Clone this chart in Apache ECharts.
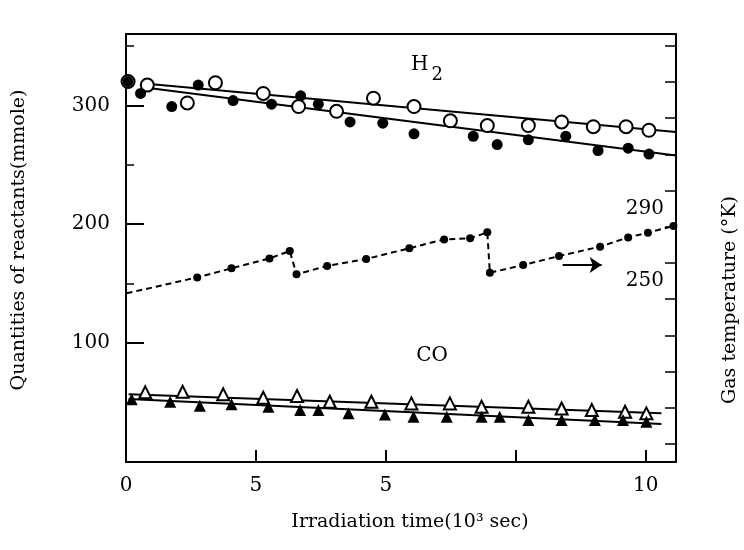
<!DOCTYPE html>
<html>
<head>
<meta charset="utf-8">
<script src="https://cdn.jsdelivr.net/npm/echarts@6/dist/echarts.min.js"></script>
<style>html,body{margin:0;padding:0;background:#fff}#c{width:744px;height:550px}</style>
</head>
<body>
<div id="c"></div>
<script>
// ---- data ----
const xTickLabels = ['0', '5', '5', '', '10'];          // labels at 0, 2.5, 5, 7.5, 10
const rightTickLabels = {250: '250', 290: '290'};

const h2OpenX = [0.04, 0.41, 1.18, 1.72, 2.64, 3.32, 4.05, 4.76, 5.54, 6.24, 6.95, 7.74, 8.38, 8.99, 9.62, 10.06];
const h2OpenY = [320, 317, 302, 319, 310, 299, 295, 306, 299, 287, 283, 283, 286, 282, 282, 279];

const h2FillX = [0.04, 0.28, 0.88, 1.39, 2.06, 2.80, 3.36, 3.70, 4.31, 4.94, 5.54, 6.68, 7.14, 7.74, 8.46, 9.08, 9.66, 10.06];
const h2FillY = [320, 310, 299, 317, 304, 301, 308, 301, 286, 285, 276, 274, 267, 271, 274, 262, 264, 259];

const h2OpenFitX = [0.4, 10.58];
const h2OpenFitY = [318.2, 277.5];
const h2FillFitX = [0.4, 10.58];
const h2FillFitY = [314.8, 257.9];

const coOpenX = [0.37, 1.09, 1.87, 2.64, 3.29, 3.92, 4.72, 5.49, 6.23, 6.84, 7.74, 8.38, 8.96, 9.60, 10.01];
const coOpenY = [58.6, 59, 56.9, 54, 55.5, 50.7, 50.7, 49.3, 49.3, 46.5, 46.5, 45, 43.7, 42.3, 40.9];

const coFillX = [0.11, 0.85, 1.42, 2.03, 2.74, 3.35, 3.70, 4.28, 4.98, 5.53, 6.17, 6.84, 7.19, 7.74, 8.38, 9.02, 9.56, 10.01];
const coFillY = [52.7, 50.7, 47.3, 48.5, 46.5, 43.7, 43.7, 40.9, 40.0, 38.1, 38.1, 38.1, 38.1, 35.3, 35.3, 35.3, 35.3, 33.9];

const coOpenFitX = [0.05, 10.3];
const coOpenFitY = [57, 41];
const coFillFitX = [0.05, 10.3];
const coFillFitY = [53, 32];

const tempX = [0.01, 1.37, 2.03, 2.76, 3.15, 3.28, 3.87, 4.62, 5.45, 6.12, 6.62, 6.95, 7.00, 7.64, 8.33, 9.12, 9.66, 10.04, 10.53];
const tempY = [243.2, 252, 257, 262.5, 266.6, 253.7, 258.3, 262.2, 268.1, 273, 273.6, 276.9, 254.6, 258.8, 263.8, 269, 274.1, 276.7, 280.4];

const arrowX = [8.4, 9.15];
const arrowY = [258.8, 258.8];

// ---- chart ----
const FONT = '"DejaVu Serif", serif';
const zip = (xs, ys) => xs.map((x, i) => [x, ys[i]]);
const chart = echarts.init(document.getElementById('c'), null, {renderer: 'canvas'});

const lineStyleSolid = {color: '#000', width: 2};

const option = {
  animation: false,
  backgroundColor: '#fff',
  grid: {left: 126, right: 68, top: 34, bottom: 88, show: false},
  xAxis: [{
    type: 'value', min: 0, max: 10.58, interval: 2.5,
    axisLine: {show: true, onZero: false, lineStyle: {color: '#000', width: 2}},
    axisTick: {show: true, inside: true, length: 12, lineStyle: {color: '#000', width: 2}},
    splitLine: {show: false},
    axisLabel: {
      color: '#000', fontFamily: FONT, fontSize: 20, margin: 14, showMaxLabel: false,
      formatter: v => { const i = Math.round(v / 2.5); return xTickLabels[i] !== undefined ? xTickLabels[i] : ''; }
    }
  }, {
    type: 'value', position: 'top', min: 0, max: 10.58,
    axisLine: {show: true, onZero: false, lineStyle: {color: '#000', width: 2}},
    axisTick: {show: false}, axisLabel: {show: false}, splitLine: {show: false}
  }],
  yAxis: [{
    type: 'value', min: 0, max: 360, interval: 100,
    axisLine: {show: true, onZero: false, lineStyle: {color: '#000', width: 2}},
    axisTick: {show: true, inside: true, length: 18, lineStyle: {color: '#000', width: 2}},
    minorTick: {show: true, splitNumber: 2, length: 8, lineStyle: {color: '#000', width: 1.5}},
    splitLine: {show: false},
    axisLabel: {color: '#000', fontFamily: FONT, fontSize: 20, margin: 16, showMaxLabel: false, showMinLabel: false}
  }, {
    type: 'value', position: 'right', min: 150, max: 386.5, interval: 20,
    axisLine: {show: true, onZero: false, lineStyle: {color: '#000', width: 2}},
    axisTick: {show: true, inside: true, length: 0, lineStyle: {color: '#000', width: 0}},
    minorTick: {show: true, splitNumber: 2, length: 11, lineStyle: {color: '#000', width: 1.5}},
    splitLine: {show: false},
    axisLabel: {
      inside: true, color: '#000', fontFamily: FONT, fontSize: 20, margin: 12, showMaxLabel: false,
      formatter: v => rightTickLabels[Math.round(v)] || ''
    }
  }],
  graphic: [
    {type: 'text', x: 410, y: 522, style: {text: 'Irradiation time(10³ sec)', fontFamily: FONT, fontSize: 19, fill: '#000', align: 'center', verticalAlign: 'middle'}},
    {type: 'text', x: 19, y: 240, rotation: Math.PI / 2, style: {text: 'Quantities of reactants(mmole)', fontFamily: FONT, fontSize: 19, fill: '#000', align: 'center', verticalAlign: 'middle'}},
    {type: 'text', x: 730, y: 300, rotation: Math.PI / 2, style: {text: 'Gas temperature (°K)', fontFamily: FONT, fontSize: 19, fill: '#000', align: 'center', verticalAlign: 'middle'}},
    {type: 'text', x: 411, y: 55, style: {
      text: '{h|H}{s|2}', align: 'left', verticalAlign: 'top',
      rich: {
        h: {fontFamily: FONT, fontSize: 20, fill: '#000', verticalAlign: 'top'},
        s: {fontFamily: FONT, fontSize: 18, fill: '#000', verticalAlign: 'top', padding: [11, 0, 0, 3]}
      }
    }},
    {type: 'text', x: 432, y: 356, style: {text: 'CO', fontFamily: FONT, fontSize: 20, fill: '#000', align: 'center', verticalAlign: 'middle'}}
  ],
  series: [
    {type: 'line', name: 'H2 open fit', data: zip(h2OpenFitX, h2OpenFitY), showSymbol: false, symbol: 'none', lineStyle: lineStyleSolid, z: 2},
    {type: 'line', name: 'H2 filled fit', data: zip(h2FillFitX, h2FillFitY), showSymbol: false, symbol: 'none', lineStyle: lineStyleSolid, z: 2},
    {type: 'line', name: 'CO open fit', data: zip(coOpenFitX, coOpenFitY), showSymbol: false, symbol: 'none', lineStyle: lineStyleSolid, z: 2},
    {type: 'line', name: 'CO filled fit', data: zip(coFillFitX, coFillFitY), showSymbol: false, symbol: 'none', lineStyle: lineStyleSolid, z: 2},
    {type: 'line', name: 'Gas temperature', yAxisIndex: 1,
      data: zip(tempX, tempY).map((p, i) => i === 0 ? {value: p, symbol: 'none'} : p),
      symbol: 'circle', symbolSize: 8, showAllSymbol: true,
      itemStyle: {color: '#000'},
      lineStyle: {color: '#000', width: 2, type: [6, 4]}, z: 3,
      markLine: {
        silent: true, symbol: ['none', 'arrow'], symbolSize: 12,
        label: {show: false},
        lineStyle: {color: '#000', width: 2, type: 'solid'},
        data: [[{coord: [arrowX[0], arrowY[0]]}, {coord: [arrowX[1], arrowY[1]]}]]
      }
    },
    {type: 'scatter', name: 'H2 open', data: zip(h2OpenX, h2OpenY), symbol: 'circle', symbolSize: 13,
      itemStyle: {color: '#fff', borderColor: '#000', borderWidth: 2, opacity: 1}, z: 5},
    {type: 'scatter', name: 'H2 filled', data: zip(h2FillX, h2FillY), symbol: 'circle', symbolSize: 11,
      itemStyle: {color: '#000', opacity: 1}, z: 6},
    {type: 'scatter', name: 'CO open', data: zip(coOpenX, coOpenY), symbol: 'triangle', symbolSize: 12,
      itemStyle: {color: '#fff', borderColor: '#000', borderWidth: 2, opacity: 1}, z: 5},
    {type: 'scatter', name: 'CO filled', data: zip(coFillX, coFillY), symbol: 'triangle', symbolSize: 12,
      itemStyle: {color: '#000', opacity: 1}, z: 6}
  ]
};
chart.setOption(option);
</script>
</body>
</html>
